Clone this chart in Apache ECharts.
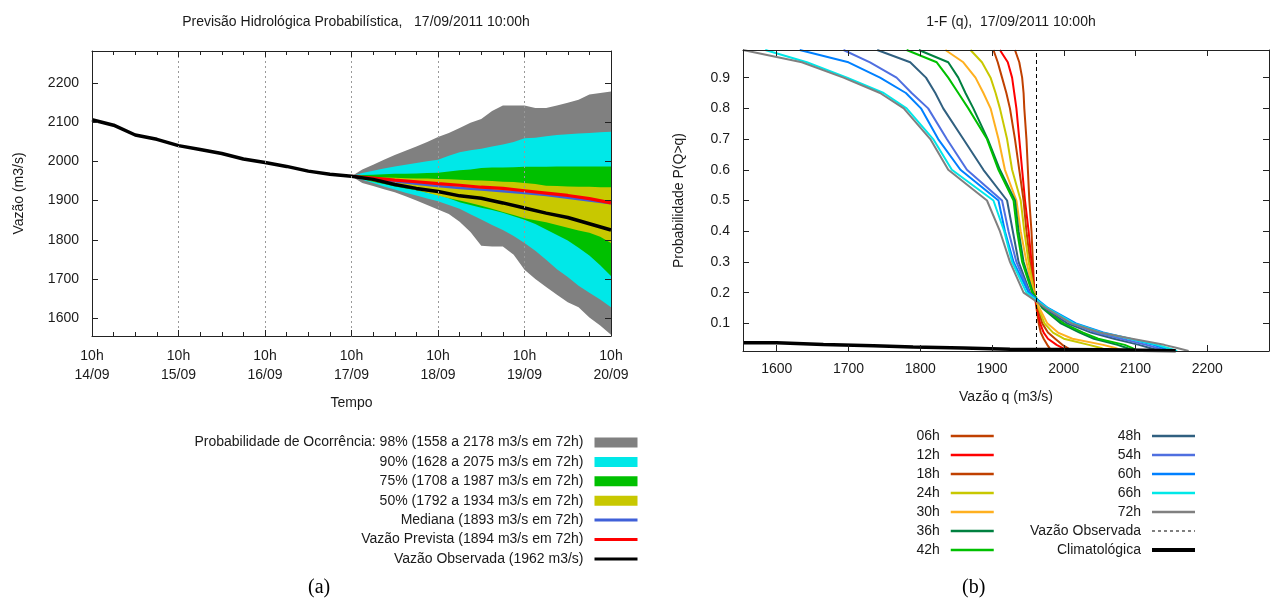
<!DOCTYPE html>
<html>
<head>
<meta charset="utf-8">
<script src="https://cdn.jsdelivr.net/npm/echarts@6/dist/echarts.min.js"></script>
<style>
  html, body { margin: 0; background: #fff; }
  #chart { width: 1271px; height: 601px; }
</style>
</head>
<body>
<div id="chart"></div>
<script>
// (a) previsao hidrologica - horas desde 14/09 10h
var TIME_LABELS = ['14/09', '15/09', '16/09', '17/09', '18/09', '19/09', '20/09'];
var FLOW_TICKS = [1600, 1700, 1800, 1900, 2000, 2100, 2200];

var OBS_HOURS = [0, 6, 12, 18, 24, 30, 36, 42, 48, 54, 60, 66, 72, 78, 84, 90, 96, 102, 108, 114, 120, 126, 132, 138, 144];
var OBS_FLOW = [2106, 2092, 2067, 2056, 2040, 2030, 2020, 2006, 1997, 1987, 1975, 1967, 1962, 1954, 1941, 1931, 1923, 1912, 1906, 1894, 1881, 1868, 1857, 1841, 1825];

var FC_HOURS_6H = [72, 78, 84, 90, 96, 102, 108, 114, 120, 126, 132, 138, 144];
var FC_PREVISTA = [1962, 1957, 1952, 1948, 1943, 1939, 1934, 1931, 1925, 1919, 1913, 1905, 1894];
var FC_MEDIANA = [1962, 1955, 1949, 1943, 1937, 1932, 1928, 1924, 1919, 1914, 1907, 1900, 1893];

// faixas de probabilidade, passo de 3h
var FC_HOURS = [72, 75, 78, 81, 84, 87, 90, 93, 96, 99, 102, 105, 108, 111, 114, 117, 120, 123, 126, 129, 132, 135, 138, 141, 144];
var P98_HI = [1962, 1979, 1991, 2004, 2016, 2027, 2038, 2049, 2062, 2072, 2085, 2098, 2108, 2128, 2142, 2142, 2142, 2136, 2136, 2142, 2149, 2157, 2170, 2174, 2178];
var P98_LO = [1962, 1945, 1937, 1929, 1921, 1911, 1900, 1889, 1877, 1866, 1846, 1820, 1785, 1783, 1783, 1762, 1724, 1700, 1680, 1660, 1641, 1628, 1602, 1582, 1558];
var P90_HI = [1962, 1970, 1976, 1982, 1987, 1991, 1996, 2000, 2004, 2014, 2023, 2028, 2032, 2038, 2043, 2049, 2059, 2060, 2064, 2067, 2069, 2071, 2072, 2074, 2075];
var P90_LO = [1962, 1953, 1945, 1936, 1928, 1920, 1913, 1905, 1898, 1889, 1879, 1865, 1852, 1838, 1825, 1810, 1792, 1772, 1749, 1725, 1705, 1683, 1665, 1648, 1628];
var P75_HI = [1962, 1965, 1966, 1967, 1968, 1968, 1969, 1970, 1971, 1974, 1977, 1979, 1983, 1984, 1984, 1985, 1986, 1986, 1986, 1987, 1987, 1987, 1987, 1987, 1987];
var P75_LO = [1962, 1955, 1948, 1942, 1936, 1931, 1926, 1920, 1915, 1906, 1896, 1889, 1882, 1876, 1869, 1860, 1851, 1840, 1826, 1812, 1798, 1780, 1760, 1735, 1708];
var P50_HI = [1962, 1961, 1960, 1959, 1958, 1957, 1956, 1956, 1955, 1954, 1953, 1952, 1951, 1950, 1948, 1947, 1945, 1942, 1938, 1937, 1936, 1935, 1935, 1934, 1934];
var P50_LO = [1962, 1955, 1949, 1944, 1938, 1933, 1927, 1920, 1913, 1906, 1900, 1894, 1887, 1879, 1871, 1863, 1855, 1850, 1845, 1838, 1831, 1824, 1818, 1808, 1792];

// (b) 1-F(q) por horizonte
var P_LEVELS = [0.99, 0.95, 0.9, 0.85, 0.8, 0.7, 0.6, 0.5, 0.4, 0.3, 0.2, 0.15, 0.1, 0.07, 0.05, 0.03, 0.02, 0.01];
var PROB_TICKS = [0.1, 0.2, 0.3, 0.4, 0.5, 0.6, 0.7, 0.8, 0.9];
var HORIZONS = ['06h', '12h', '18h', '24h', '30h', '36h', '42h', '48h', '54h', '60h', '66h', '72h'];
var HORIZON_COLORS = ['#c04000', '#ff0000', '#c04000', '#c8c800', '#ffb020', '#008040', '#00c000', '#306080', '#4f6fe0', '#0080ff', '#00e8e8', '#808080'];
var Q_06H = [1932, 1938, 1942, 1944, 1945, 1948, 1950, 1952, 1955, 1957, 1959, 1962, 1965, 1968, 1972, 1977, 1980, 1984];
var Q_12H = [1911, 1922, 1928, 1931, 1934, 1938, 1942, 1946, 1951, 1955, 1959, 1963, 1967, 1972, 1978, 1990, 1998, 2005];
var Q_18H = [1902, 1908, 1914, 1920, 1925, 1932, 1938, 1944, 1948, 1953, 1959, 1964, 1970, 1978, 1988, 1998, 2005, 2012];
var Q_24H = [1870, 1886, 1898, 1905, 1911, 1921, 1928, 1940, 1945, 1951, 1959, 1965, 1973, 1985, 2000, 2035, 2052, 2062];
var Q_30H = [1835, 1860, 1877, 1888, 1898, 1909, 1918, 1934, 1940, 1948, 1958, 1966, 1977, 1992, 2012, 2055, 2072, 2083];
var Q_36H = [1798, 1839, 1853, 1863, 1874, 1894, 1911, 1932, 1937, 1944, 1957, 1970, 1996, 2022, 2042, 2075, 2088, 2098];
var Q_42H = [1781, 1823, 1839, 1853, 1867, 1893, 1909, 1930, 1935, 1942, 1956, 1972, 2000, 2027, 2048, 2085, 2095, 2103];
var Q_48H = [1740, 1786, 1808, 1821, 1832, 1860, 1888, 1921, 1929, 1937, 1953, 1973, 2005, 2038, 2070, 2105, 2120, 2135];
var Q_54H = [1693, 1730, 1767, 1788, 1811, 1837, 1865, 1914, 1923, 1934, 1952, 1975, 2010, 2045, 2080, 2115, 2130, 2142];
var Q_60H = [1632, 1700, 1744, 1780, 1801, 1825, 1856, 1909, 1918, 1930, 1951, 1978, 2017, 2055, 2092, 2125, 2138, 2148];
var Q_66H = [1584, 1642, 1698, 1749, 1781, 1818, 1844, 1902, 1917, 1928, 1948, 1977, 2014, 2052, 2092, 2130, 2145, 2158];
var Q_72H = [1553, 1635, 1693, 1744, 1777, 1814, 1839, 1893, 1911, 1925, 1944, 1975, 2011, 2050, 2095, 2140, 2158, 2174];
var Q_BY_HORIZON = [Q_06H, Q_12H, Q_18H, Q_24H, Q_30H, Q_36H, Q_42H, Q_48H, Q_54H, Q_60H, Q_66H, Q_72H];

var CLIM_Q = [1553, 1600, 1665, 1735, 1790, 1860, 1925, 2060, 2156];
var CLIM_P = [0.037, 0.031, 0.027, 0.023, 0.020, 0.016, 0.014, 0.011, 0.010];
var OBS_Q = 1962;

var FONT = 'Liberation Sans, Arial, sans-serif';
var TEXT = '#1a1a1a';
var FRAME = '#222';

function pairs(xs, ys) {
  return xs.map(function (x, i) { return [x, ys[i]]; });
}

var bands = [
  { name: 'Probabilidade de Ocorrência: 98% (1558 a 2178 m3/s em 72h)', lo: P98_LO, hi: P98_HI, color: '#808080' },
  { name: '90% (1628 a 2075 m3/s em 72h)', lo: P90_LO, hi: P90_HI, color: '#00e8e8' },
  { name: '75% (1708 a 1987 m3/s em 72h)', lo: P75_LO, hi: P75_HI, color: '#00c000' },
  { name: '50% (1792 a 1934 m3/s em 72h)', lo: P50_LO, hi: P50_HI, color: '#c8c800' }
];

// faixa preenchida entre limite inferior e superior
function bandRenderer(band) {
  return function (params, api) {
    if (params.dataIndex !== 0) return null;
    var pts = [];
    for (var i = 0; i < FC_HOURS.length; i++) pts.push(api.coord([FC_HOURS[i], band.hi[i]]));
    for (var j = FC_HOURS.length - 1; j >= 0; j--) pts.push(api.coord([FC_HOURS[j], band.lo[j]]));
    return { type: 'polygon', shape: { points: pts }, style: { fill: band.color } };
  };
}

var series = [];
bands.forEach(function (b) {
  series.push({
    name: b.name, type: 'custom', xAxisIndex: 0, yAxisIndex: 0, silent: true,
    color: b.color, itemStyle: { color: b.color },
    encode: { x: 0, y: [1, 2] },
    renderItem: bandRenderer(b),
    data: FC_HOURS.map(function (h, i) { return [h, b.lo[i], b.hi[i]]; })
  });
});
series.push({
  name: 'Mediana (1893 m3/s em 72h)', type: 'line', xAxisIndex: 0, yAxisIndex: 0,
  symbol: 'none', color: '#4060d8', lineStyle: { width: 2.5, color: '#4060d8' },
  data: pairs(FC_HOURS_6H, FC_MEDIANA)
});
series.push({
  name: 'Vazão Prevista (1894 m3/s em 72h)', type: 'line', xAxisIndex: 0, yAxisIndex: 0,
  symbol: 'none', color: '#ff0000', lineStyle: { width: 3.2, color: '#ff0000' },
  data: pairs(FC_HOURS_6H, FC_PREVISTA)
});
series.push({
  name: 'Vazão Observada (1962 m3/s)', type: 'line', xAxisIndex: 0, yAxisIndex: 0,
  symbol: 'none', color: '#000', lineStyle: { width: 3.5, color: '#000' },
  data: pairs(OBS_HOURS, OBS_FLOW)
});

HORIZONS.forEach(function (h, k) {
  series.push({
    name: h, type: 'line', xAxisIndex: 2, yAxisIndex: 2, symbol: 'none',
    color: HORIZON_COLORS[k], lineStyle: { width: 2, color: HORIZON_COLORS[k] },
    data: pairs(Q_BY_HORIZON[k], P_LEVELS)
  });
});
series.push({
  name: 'Vazão Observada', type: 'line', xAxisIndex: 2, yAxisIndex: 2, symbol: 'none',
  color: '#000', lineStyle: { width: 1, color: '#000', type: [4, 3] },
  data: [[OBS_Q, P_LEVELS[P_LEVELS.length - 1]], [OBS_Q, P_LEVELS[0]]]
});
series.push({
  name: 'Climatológica', type: 'line', xAxisIndex: 2, yAxisIndex: 2, symbol: 'none', step: 'end',
  color: '#000', lineStyle: { width: 3.5, color: '#000' },
  data: pairs(CLIM_Q, CLIM_P)
});

function axisBase(extra) {
  var a = {
    type: 'value', z: 5,
    axisLine: { show: true, onZero: false, lineStyle: { color: FRAME, width: 1 } },
    axisTick: { show: true, inside: true, length: 6, lineStyle: { color: FRAME } },
    axisLabel: { show: false },
    splitLine: { show: false }
  };
  for (var k in extra) a[k] = extra[k];
  return a;
}
var nameStyle = { color: TEXT, fontSize: 14, fontFamily: FONT };
var plain = function (v) { return String(v); };

var timeAxis = {
  min: 0, max: 144, interval: 24,
  minorTick: { show: true, splitNumber: 4, length: 4, lineStyle: { color: FRAME } }
};

// legenda: linha sem simbolo
function lineItem(name, style) {
  return { name: name, lineStyle: style, itemStyle: { opacity: 0 } };
}

var chart = echarts.init(document.getElementById('chart'));
chart.setOption({
  animation: false,
  backgroundColor: '#fff',
  textStyle: { fontFamily: FONT },
  title: [
    { text: 'Previsão Hidrológica Probabilística,   17/09/2011 10:00h', left: 351, top: 10, textAlign: 'center',
      textStyle: { fontSize: 14, fontWeight: 'normal', color: TEXT, fontFamily: FONT } },
    { text: '1-F (q),  17/09/2011 10:00h', left: 1006, top: 10, textAlign: 'center',
      textStyle: { fontSize: 14, fontWeight: 'normal', color: TEXT, fontFamily: FONT } }
  ],
  grid: [
    { left: 92, top: 51, width: 519, height: 285 },
    { left: 743, top: 50, width: 526, height: 301 }
  ],
  xAxis: [
    axisBase({
      gridIndex: 0, position: 'bottom', min: timeAxis.min, max: timeAxis.max, interval: timeAxis.interval,
      minorTick: timeAxis.minorTick,
      splitLine: { show: true, lineStyle: { color: '#999', width: 1, type: [2, 3] } },
      axisLabel: {
        show: true, margin: 11, lineHeight: 19, color: TEXT, fontSize: 14, fontFamily: FONT,
        formatter: function (v) { return '10h\n' + TIME_LABELS[Math.round(v / 24)]; }
      },
      name: 'Tempo', nameLocation: 'middle', nameGap: 60, nameTextStyle: nameStyle
    }),
    axisBase({
      gridIndex: 0, position: 'top', min: timeAxis.min, max: timeAxis.max, interval: timeAxis.interval,
      minorTick: timeAxis.minorTick
    }),
    axisBase({
      gridIndex: 1, position: 'bottom', min: 1553, max: 2286,
      axisTick: { show: true, inside: true, length: 6, lineStyle: { color: FRAME }, customValues: FLOW_TICKS },
      axisLabel: { show: true, margin: 11, color: TEXT, fontSize: 14, fontFamily: FONT, customValues: FLOW_TICKS, formatter: plain },
      name: 'Vazão q (m3/s)', nameLocation: 'middle', nameGap: 39, nameTextStyle: nameStyle
    }),
    axisBase({
      gridIndex: 1, position: 'top', min: 1553, max: 2286,
      axisTick: { show: true, inside: true, length: 6, lineStyle: { color: FRAME }, customValues: FLOW_TICKS }
    })
  ],
  yAxis: [
    axisBase({
      gridIndex: 0, position: 'left', min: 1555, max: 2281,
      axisTick: { show: true, inside: true, length: 6, lineStyle: { color: FRAME }, customValues: FLOW_TICKS },
      axisLabel: { show: true, margin: 13, color: TEXT, fontSize: 14, fontFamily: FONT, customValues: FLOW_TICKS, formatter: plain },
      name: 'Vazão (m3/s)', nameLocation: 'middle', nameGap: 66, nameTextStyle: nameStyle
    }),
    axisBase({
      gridIndex: 0, position: 'right', min: 1555, max: 2281,
      axisTick: { show: true, inside: true, length: 6, lineStyle: { color: FRAME }, customValues: FLOW_TICKS }
    }),
    axisBase({
      gridIndex: 1, position: 'left', min: 0.01, max: 0.99,
      axisTick: { show: true, inside: true, length: 6, lineStyle: { color: FRAME }, customValues: PROB_TICKS },
      axisLabel: {
        show: true, margin: 13, color: TEXT, fontSize: 14, fontFamily: FONT, customValues: PROB_TICKS,
        formatter: function (v) { return v.toFixed(1); }
      },
      name: 'Probabilidade P(Q>q)', nameLocation: 'middle', nameGap: 57, nameTextStyle: nameStyle
    }),
    axisBase({
      gridIndex: 1, position: 'right', min: 0.01, max: 0.99,
      axisTick: { show: true, inside: true, length: 6, lineStyle: { color: FRAME }, customValues: PROB_TICKS }
    })
  ],
  legend: [
    {
      orient: 'vertical', align: 'right', right: 632, top: 435, padding: 0,
      itemWidth: 43, itemHeight: 10, itemGap: 4.4, selectedMode: false,
      textStyle: { color: TEXT, fontSize: 14, fontFamily: FONT, lineHeight: 15, padding: [0, 6, 0, 0] },
      data: bands.map(function (b) {
        return { name: b.name, icon: 'rect', itemStyle: { color: b.color } };
      }).concat([
        lineItem('Mediana (1893 m3/s em 72h)', { width: 3 }),
        lineItem('Vazão Prevista (1894 m3/s em 72h)', { width: 3 }),
        lineItem('Vazão Observada (1962 m3/s)', { width: 3 })
      ])
    },
    {
      orient: 'vertical', align: 'right', right: 276, top: 428.5, padding: 0,
      itemWidth: 43, itemHeight: 10, itemGap: 4, selectedMode: false,
      textStyle: { color: TEXT, fontSize: 14, fontFamily: FONT, lineHeight: 15, padding: [0, 6, 0, 0] },
      data: HORIZONS.slice(0, 7).map(function (h) { return lineItem(h, { width: 2.5 }); })
    },
    {
      orient: 'vertical', align: 'right', right: 74, top: 428.5, padding: 0,
      itemWidth: 43, itemHeight: 10, itemGap: 4, selectedMode: false,
      textStyle: { color: TEXT, fontSize: 14, fontFamily: FONT, lineHeight: 15, padding: [0, 6, 0, 0] },
      data: HORIZONS.slice(7).map(function (h) { return lineItem(h, { width: 2.5 }); }).concat([
        lineItem('Vazão Observada', { width: 1.2, type: [3, 3] }),
        lineItem('Climatológica', { width: 4 })
      ])
    }
  ],
  graphic: [
    { type: 'text', left: 308, top: 578, style: { text: '(a)', fill: '#000', font: '20px "Liberation Serif", "Times New Roman", serif' } },
    { type: 'text', left: 962, top: 578, style: { text: '(b)', fill: '#000', font: '20px "Liberation Serif", "Times New Roman", serif' } }
  ],
  series: series
});
</script>
</body>
</html>
